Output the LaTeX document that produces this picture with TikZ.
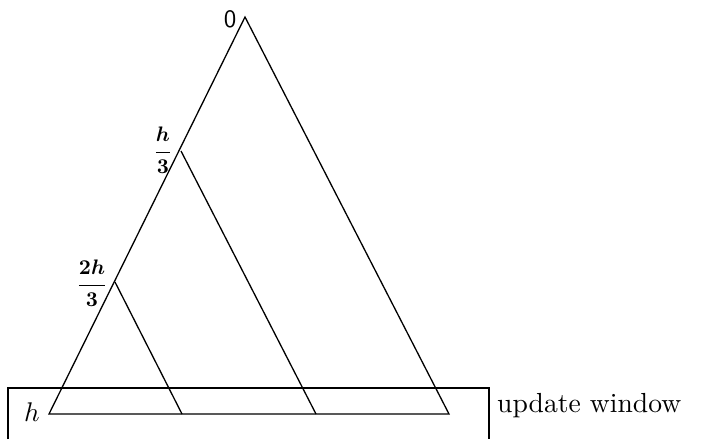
\documentclass[tikz,border=0pt]{standalone}
\usepackage{graphicx}
\begin{document}
\begin{tikzpicture}[x=1pt,y=-1pt,
  edge/.style={line width=1.3pt},
  lbl/.style={inner sep=0pt}]
\useasboundingbox (0,0) rectangle (704,439);
\coordinate (apex) at (245,17);
\coordinate (bl) at (49,414);
\coordinate (br) at (449,414);
\coordinate (p1) at (181,151);
\coordinate (q1) at (316,414);
\coordinate (p2) at (115,282);
\coordinate (q2) at (182,414);
\draw[edge,line join=miter] (bl) -- (apex) -- (br) -- cycle;
\draw[edge] (p1) -- (q1);
\draw[edge] (p2) -- (q2);
\coordinate (w1) at (8,439);
\coordinate (w2) at (8,388);
\coordinate (w3) at (489,388);
\coordinate (w4) at (489,439);
\draw[edge] (w1) -- (w2) -- (w3) -- (w4);
\node[lbl] (l0) at (230,19) {\scalebox{2.5}{\sffamily 0}};
\node[lbl] (l1) at (163,150) {\scalebox{2.1}{\boldmath$\displaystyle\frac{h}{3}$}};
\node[lbl] (l2) at (92,283) {\scalebox{2.1}{\boldmath$\displaystyle\frac{2h}{3}$}};
\node[lbl] (lh) at (32,412) {\scalebox{2.7}{$h$}};
\node[lbl,anchor=west] (uw) at (497,406) {\scalebox{2.76}{update window}};
\end{tikzpicture}
\end{document}
